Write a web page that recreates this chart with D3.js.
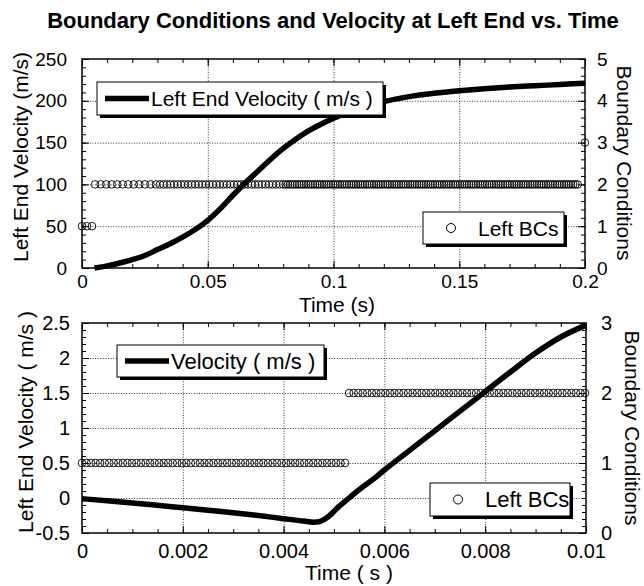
<!DOCTYPE html>
<html lang="en">
<head>
<meta charset="UTF-8">
<title>Boundary Conditions and Velocity at Left End vs. Time</title>
<script src="https://cdn.jsdelivr.net/npm/d3@7"></script>
<style>
  body { margin: 0; background: #fff; }
  svg text { font-family: "Liberation Sans", Arial, Helvetica, sans-serif; fill: #000; }
  .grid line { stroke: #000; stroke-width: 0.8; stroke-dasharray: 1,1.6; }
  .grid .domain, .ticks .domain { display: none; }
  .ticks line { stroke: #000; stroke-width: 1; }
</style>
</head>
<body>
<svg id="chart" width="644" height="586"></svg>
<script>
// ---- data ----
// upper panel: whole run
const topTime = [0.005, 0.01, 0.015, 0.02, 0.025, 0.03, 0.035, 0.04, 0.045, 0.05,
                 0.055, 0.06, 0.065, 0.07, 0.075, 0.08, 0.085, 0.09, 0.095, 0.1,
                 0.11, 0.12, 0.13, 0.14, 0.15, 0.16, 0.17, 0.18, 0.19, 0.2];
const topVel  = [0, 2.5, 6, 10, 15, 22, 29, 37, 46, 57,
                 71, 87, 102, 116, 130, 143, 154, 164, 172, 179,
                 191, 199, 205, 209, 212, 214.5, 216.5, 218, 219.5, 221];
// boundary condition samples: [from, to, step, value]
const topBcRuns = [[0, 0.004, 0.002, 1],
                   [0.0052, 0.03, 0.0022, 2],
                   [0.031, 0.08, 0.0014, 2],
                   [0.081, 0.1975, 0.0009, 2],
                   [0.2, 0.2, 1, 3]];
const topXTicks = [0, 0.05, 0.1, 0.15, 0.2];
const topYLTicks = [0, 50, 100, 150, 200, 250];
const topYRTicks = [0, 1, 2, 3, 4, 5];

// lower panel: first 10 ms
const botTime = [0, 0.0005, 0.001, 0.0015, 0.002, 0.0025, 0.003, 0.0035, 0.004, 0.0044,
                 0.0046, 0.0047, 0.0048, 0.0049, 0.005, 0.0051, 0.0052, 0.0053, 0.0055, 0.0058,
                 0.006, 0.0065, 0.007, 0.0075, 0.008, 0.0085, 0.009, 0.0095, 0.01];
const botVel  = [-0.01, -0.04, -0.07, -0.105, -0.14, -0.175, -0.21, -0.25, -0.295, -0.33,
                 -0.345, -0.34, -0.31, -0.26, -0.19, -0.12, -0.06, 0, 0.12, 0.28,
                 0.4, 0.68, 0.96, 1.24, 1.52, 1.8, 2.07, 2.3, 2.47];
const botBcRuns = [[0, 0.0052, 0.00009, 1],
                   [0.0053, 0.01, 0.00009, 2]];
const botXTicks = [0, 0.002, 0.004, 0.006, 0.008, 0.01];
const botYLTicks = [-0.5, 0, 0.5, 1, 1.5, 2, 2.5];
const botYRTicks = [0, 1, 2, 3];

const svg = d3.select("#chart");

svg.append("text")
    .attr("x", 333).attr("y", 28)
    .attr("text-anchor", "middle")
    .style("font-size", "22px").style("font-weight", "bold")
    .text("Boundary Conditions and Velocity at Left End vs. Time");

function bcPoints(runs) {
    return runs.flatMap(([from, to, step, value]) =>
        d3.range(from, to + step / 2, step).map(t => ({ t, value })));
}

function legendBox(g, x, y, w, h) {
    g.append("rect").attr("x", x + 3).attr("y", y + 3).attr("width", w).attr("height", h).attr("fill", "#000");
    g.append("rect").attr("x", x).attr("y", y).attr("width", w).attr("height", h)
        .attr("fill", "#fff").attr("stroke", "#000").attr("stroke-width", 1);
}

function panel(p) {
    const g = svg.append("g");
    const w = p.right - p.left, h = p.bottom - p.top;
    const x = d3.scaleLinear().domain(p.xDomain).range([p.left, p.right]);
    const yL = d3.scaleLinear().domain(p.yLDomain).range([p.bottom, p.top]);
    const yR = d3.scaleLinear().domain(p.yRDomain).range([p.bottom, p.top]);

    // dotted grid on inner major ticks
    g.append("g").attr("class", "grid").attr("transform", `translate(0,${p.bottom})`)
        .call(d3.axisBottom(x).tickValues(p.xTicks.slice(1, -1)).tickSize(-h).tickFormat(""));
    g.append("g").attr("class", "grid").attr("transform", `translate(${p.left},0)`)
        .call(d3.axisLeft(yL).tickValues(p.yLTicks.slice(1, -1)).tickSize(-w).tickFormat(""));

    g.append("rect").attr("x", p.left).attr("y", p.top).attr("width", w).attr("height", h)
        .attr("fill", "none").attr("stroke", "#000").attr("stroke-width", 1.5);

    const ticks = (axis, tx, ty) => g.append("g").attr("class", "ticks")
        .attr("transform", `translate(${tx},${ty})`).call(axis);

    // minor ticks, pointing inward
    const minorX = d3.range(p.xDomain[0], p.xDomain[1] + p.xMinor / 2, p.xMinor);
    const minorYL = d3.range(p.yLDomain[0], p.yLDomain[1] + p.yLMinor / 2, p.yLMinor);
    const minorYR = d3.range(p.yRDomain[0], p.yRDomain[1] + p.yRMinor / 2, p.yRMinor);
    ticks(d3.axisBottom(x).tickValues(minorX).tickSize(-4).tickFormat(""), 0, p.bottom);
    ticks(d3.axisTop(x).tickValues(minorX).tickSize(-4).tickFormat(""), 0, p.top);
    ticks(d3.axisLeft(yL).tickValues(minorYL).tickSize(-4).tickFormat(""), p.left, 0);
    ticks(d3.axisRight(yR).tickValues(minorYR).tickSize(-4).tickFormat(""), p.right, 0);

    // major ticks with labels
    ticks(d3.axisBottom(x).tickValues(p.xTicks).tickSize(-7).tickPadding(p.xPad).tickFormat(String), 0, p.bottom)
        .selectAll("text").style("font-size", p.tickFont + "px");
    ticks(d3.axisTop(x).tickValues(p.xTicks).tickSize(-7).tickFormat(""), 0, p.top);
    ticks(d3.axisLeft(yL).tickValues(p.yLTicks).tickSize(-7).tickPadding(p.yLPad).tickFormat(String), p.left, 0)
        .selectAll("text").style("font-size", p.tickFont + "px");
    ticks(d3.axisRight(yR).tickValues(p.yRTicks).tickSize(-7).tickPadding(p.yRPad).tickFormat(String), p.right, 0)
        .selectAll("text").style("font-size", p.tickFont + "px");

    // boundary conditions (right axis)
    g.append("g").selectAll("circle")
        .data(bcPoints(p.bcRuns))
        .join("circle")
        .attr("cx", d => x(d.t))
        .attr("cy", d => yR(d.value))
        .attr("r", 3.8)
        .attr("fill", "none")
        .attr("stroke", "#000")
        .attr("stroke-width", 0.9);

    // velocity (left axis)
    const line = d3.line().x(d => x(d[0])).y(d => yL(d[1])).curve(d3.curveMonotoneX);
    g.append("path")
        .datum(d3.zip(p.time, p.vel))
        .attr("d", line)
        .attr("fill", "none")
        .attr("stroke", "#000")
        .attr("stroke-width", 5.5);

    // axis titles
    g.append("text").attr("x", p.xLabel[1]).attr("y", p.xLabel[2])
        .attr("text-anchor", "middle").style("font-size", p.labelFont + "px").text(p.xLabel[0]);
    g.append("text").attr("transform", `translate(${p.yLLabel[1]},${p.yLLabel[2]}) rotate(-90)`)
        .attr("text-anchor", "middle").style("font-size", p.labelFont + "px").text(p.yLLabel[0]);
    g.append("text").attr("transform", `translate(${p.yRLabel[1]},${p.yRLabel[2]}) rotate(90)`)
        .attr("text-anchor", "middle").style("font-size", p.labelFont + "px").text(p.yRLabel[0]);

    // legends
    const lv = p.velLegend;
    legendBox(g, lv.x, lv.y, lv.w, lv.h);
    g.append("line").attr("x1", lv.x + 8).attr("x2", lv.x + 52)
        .attr("y1", lv.y + lv.h / 2).attr("y2", lv.y + lv.h / 2)
        .attr("stroke", "#000").attr("stroke-width", 5.5);
    g.append("text").attr("x", lv.x + 54).attr("y", lv.y + lv.h / 2 + 7.5)
        .style("font-size", p.legendFont + "px").text(lv.text);

    const lb = p.bcLegend;
    legendBox(g, lb.x, lb.y, lb.w, lb.h);
    g.append("circle").attr("cx", lb.x + 28).attr("cy", lb.y + lb.h / 2).attr("r", 4.5)
        .attr("fill", "none").attr("stroke", "#000").attr("stroke-width", 1);
    g.append("text").attr("x", lb.x + 55).attr("y", lb.y + lb.h / 2 + 7.5)
        .style("font-size", p.legendFont + "px").text(lb.text);
}

panel({
    left: 82, right: 585, top: 59, bottom: 268,
    xDomain: [0, 0.2], yLDomain: [0, 250], yRDomain: [0, 5],
    xTicks: topXTicks, yLTicks: topYLTicks, yRTicks: topYRTicks,
    xMinor: 0.01, yLMinor: 10, yRMinor: 0.2,
    xPad: 7, yLPad: 15, yRPad: 12, tickFont: 19,
    time: topTime, vel: topVel, bcRuns: topBcRuns,
    labelFont: 21,
    xLabel: ["Time (s)", 337, 312],
    yLLabel: ["Left End Velocity (m/s)", 28, 157],
    yRLabel: ["Boundary Conditions", 617, 163],
    legendFont: 21,
    velLegend: { x: 97, y: 82, w: 286, h: 33, text: "Left End Velocity ( m/s )" },
    bcLegend: { x: 423, y: 212, w: 141, h: 32, text: "Left BCs" }
});

panel({
    left: 82, right: 586, top: 323, bottom: 533,
    xDomain: [0, 0.01], yLDomain: [-0.5, 2.5], yRDomain: [0, 3],
    xTicks: botXTicks, yLTicks: botYLTicks, yRTicks: botYRTicks,
    xMinor: 0.0005, yLMinor: 0.1, yRMinor: 0.1,
    xPad: 11, yLPad: 12, yRPad: 15, tickFont: 20,
    time: botTime, vel: botVel, bcRuns: botBcRuns,
    labelFont: 21,
    xLabel: ["Time ( s )", 349, 580],
    yLLabel: ["Left End Velocity ( m/s )", 33, 422],
    yRLabel: ["Boundary Conditions", 625, 428],
    legendFont: 22,
    velLegend: { x: 117, y: 345, w: 207, h: 32, text: "Velocity ( m/s )" },
    bcLegend: { x: 430, y: 483, w: 140, h: 33, text: "Left BCs" }
});
</script>
</body>
</html>
